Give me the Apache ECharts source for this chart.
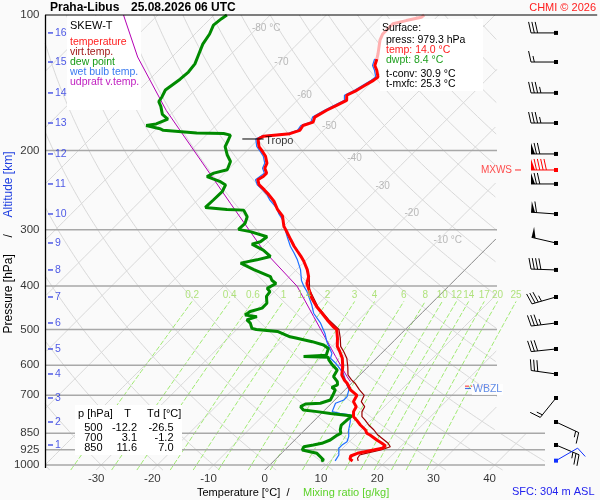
<!DOCTYPE html>
<html lang="cs">
<head>
    <meta charset="UTF-8">
    <title>Praha-Libus SKEW-T</title>
    <script src="https://cdn.jsdelivr.net/npm/echarts@6.0.0/dist/echarts.min.js"></script>
    <style type="text/css">
        * { margin: 0; padding: 0; }
        html, body { width: 600px; height: 500px; background: #fafafa; }
    </style>
</head>
<body>
<div id="main" style="width: 600px;height:500px;"></div>
<script type="text/javascript">
    // ---- sounding data: [pressure hPa, value °C] ----
    var tempProfile = [[979.3, 14.0], [970, 13.2], [955, 12.8], [942, 13.5], [926, 15.8], [918, 17.0], [907, 17.2],
        [895, 16.1], [880, 14.6], [858, 12.5], [850, 11.6], [836, 10.8], [815, 9.0], [794, 7.4], [781, 6.3],
        [761, 5.4], [742, 5.0], [723, 3.6], [700, 3.1], [681, 1.0], [658, -0.8], [647, -1.9], [631, -3.2],
        [605, -4.5], [579, -6.1], [560, -7.7], [545, -9.1], [523, -10.5], [500, -12.2], [493, -13.3], [476, -15.6],
        [460, -17.7], [445, -19.8], [426, -22.2], [408, -24.2], [395, -25.7], [381.5, -26.6], [368, -28.1],
        [352.6, -30.2], [343.7, -31.6], [335, -33.1], [326.5, -34.6], [315.5, -36.4], [304.8, -38.2], [294.6, -40.0],
        [280, -42.0], [270.5, -44.1], [259.3, -46.2], [250.7, -48.3], [244.4, -50.0], [238.3, -51.8], [232.3, -52.9],
        [228.5, -52.5], [224.6, -52.5], [219, -53.7], [213.5, -54.2], [206, -55.7], [201, -57.1], [196, -58.6],
        [188.6, -60.1], [185.9, -59.6], [183.5, -55.4], [180.5, -54.2], [176, -54.5], [173, -53.3], [168.6, -53.9],
        [162.8, -53.0], [158.8, -52.1], [154.8, -51.2], [150.8, -52.1], [147, -51.2], [143.3, -50.6], [139.7, -50.0],
        [137.3, -49.8], [132.7, -51.2], [129.5, -52.4], [125.2, -53.2]];
    // faded top part of the temperature curve
    var tempTopProfile = [[125.2, -53.2], [122, -53.9], [113.7, -56.0], [110.2, -56.6], [104.6, -56.6],
        [102.9, -54.8], [101.2, -52.7], [100, -52.6]];
    var virtProfile = [[979.3, 15.0], [966, 14.4], [950, 14.2], [942, 15.0], [926, 17.1], [911, 18.2], [895, 17.2],
        [880, 15.9], [858, 13.9], [836, 12.3], [815, 10.5], [794, 8.9], [781, 7.8], [761, 6.9], [742, 6.5],
        [723, 5.0], [700, 4.4], [681, 2.6], [658, 0.6], [647, -0.6], [631, -2.1], [605, -3.6], [579, -5.3],
        [560, -7.0], [545, -8.5], [523, -10.0], [500, -11.8], [476, -15.3], [445, -19.6], [408, -24.1], [381.5, -26.5]];
    var dewProfile = [[979.3, 8.4], [975, 8.7], [942, 6.3], [926, 3.1], [911, 2.8], [903, 4.2], [895, 5.4],
        [880, 6.3], [858, 6.7], [850, 7.0], [836, 6.3], [815, 5.6], [801, 5.7], [786, 5.8], [778, 5.9], [774, 4.2],
        [768, 1.6], [761, -1.1], [755, -3.8], [742, -4.9], [732, -4.5], [729, -2.0], [717, -0.8], [700, -1.2],
        [681, -1.7], [672, -2.8], [664, -2.2], [653, -2.8], [636, -4.4], [615, -4.9], [599, -6.7], [584, -8.2],
        [576, -8.8], [574, -13.3], [570, -9.5], [565, -9.7], [551, -10.3], [541, -11.8], [532, -14.4], [523, -17.7],
        [519, -19.2], [505, -22.4], [500, -26.5], [497, -27.5], [484, -28.7], [476, -29.9], [468, -28.7],
        [464, -31.1], [456, -30.8], [448, -29.3], [437, -29.3], [422, -30.6], [412, -30.8], [405, -31.9],
        [401, -32.2], [395, -31.2], [388.6, -32.5], [381.5, -33.4], [368, -37.6], [356, -41.1], [350, -38.8],
        [344, -37.0], [333, -39.4], [322.9, -42.5], [319, -41.4], [311, -41.1], [303, -45.0], [299.5, -47.5],
        [290.4, -47.4], [280.7, -48.2], [271.4, -50.0], [270.5, -53.1], [267.7, -57.3], [258, -57.2], [247, -57.1],
        [238.6, -57.7], [234.6, -59.2], [228.6, -62.5], [224.6, -61.9], [220.8, -60.1], [211.6, -61.0],
        [204.4, -62.8], [196.1, -64.6], [189.6, -65.2], [184.9, -65.7], [183.4, -67.2], [182.8, -72.1],
        [180.4, -78.5], [178.9, -79.4], [176, -82.4], [174.6, -80.9], [170.3, -79.7], [166.3, -81.5],
        [159.6, -83.2], [155.8, -84.4], [151.9, -84.7], [146.8, -85.3], [143.2, -85.0], [138.9, -84.6],
        [133.9, -84.4], [128.4, -84.7], [123, -85.6], [116.1, -86.8], [110.2, -87.4], [105.3, -88.3],
        [101.9, -88.0], [100, -87.7]];
    var wetProfile = [[979.3, 10.9], [975, 10.9], [950, 10.5], [918, 9.3], [903, 9.3], [888, 9.6], [865, 9.0],
        [836, 7.8], [801, 6.6], [774, 5.4], [768, 3.3], [761, 1.6], [729, 0.7], [717, 1.6], [705, 1.6], [681, 0.7],
        [664, -0.5], [647, -1.7], [626, -3.2], [594, -6.4], [579, -8.2], [565, -8.8], [532, -11.8], [510, -13.6],
        [484, -16.2], [460, -19.2], [441, -21.0], [412, -24.2], [401, -25.7], [389, -27.2], [368, -29.3],
        [350, -31.6], [338, -33.4], [327, -35.2], [310.5, -37.6], [285, -41.4], [276, -43.2], [269, -44.4],
        [258, -47.1], [250.7, -48.6], [244.4, -50.3], [238.3, -52.1], [232.3, -53.3], [224.6, -52.9], [219, -54.1],
        [213.5, -54.6], [206, -56.1], [201, -57.5], [196, -59.0], [188.6, -60.5], [185.9, -60.0], [183.5, -55.8],
        [180.5, -54.6], [176, -54.9], [173, -53.7], [168.6, -54.3], [162.8, -53.4], [158.8, -52.5], [154.8, -51.6],
        [150.8, -52.5], [147, -51.6], [143.3, -51.0], [139.7, -50.4], [137.3, -50.2], [132.7, -51.6],
        [129.5, -52.8], [125.2, -53.6]];
    var parcelProfile = [[652.7, -0.5], [636, -2.0], [574, -7.6], [468, -18.6], [401, -26.9], [333, -39.4],
        [262, -53.6], [210, -66.6], [163, -81.5], [124, -96.1], [100, -106.1]];

    // levels
    var pLevels = [100, 200, 300, 400, 500, 600, 700, 850, 925, 1000];
    var altKm = [16, 15, 14, 13, 12, 11, 10, 9, 8, 7, 6, 5, 4, 3, 2, 1];
    var altP = [109.6, 127.2, 149.0, 173.8, 203.6, 237.4, 276.8, 321.1, 368.6, 423.3, 483.5, 552.3, 627.7,
        709.7, 802.5, 902.7];
    var windDir = [270, 270, 270, 270, 270, 270, 274, 283, 272, 254, 263, 264, 278, 219, 115, 113];
    var windSpd = [30, 15, 35, 35, 70, 70, 60, 50, 40, 35, 35, 30, 30, 15, 15, 25];
    var mxwsP = [221], mxwsDir = [270], mxwsSpd = [90];
    var sfcWindP = [978], sfcWindDir = [60], sfcWindSpd = [10];
    var tropoP = 188.6, tropoT = -60.1;
    var fzlP = 668, wbzlP = 676;

    // diagram reference lines
    var isoT = [-120, -110, -100, -90, -80, -70, -60, -50, -40, -30, -20, -10, 10, 20, 30, 40, 50];
    var thetaC = [-40, -30, -20, -10, 0, 10, 20, 30, 40, 50, 60, 70, 80, 90, 100, 110, 120, 130, 140, 150, 160, 170];
    var mixR = [0.2, 0.4, 0.6, 1, 1.4, 2, 3, 4, 6, 8, 10, 12, 14, 17, 20, 25];
    var isoLabelT = [-80, -70, -60, -50, -40, -30, -20, -10];
    var isoLabelP = [107, 127.3, 150.8, 177.1, 207.6, 239.6, 275.3, 316.3];
    var tempTicks = [-30, -20, -10, 0, 10, 20, 30, 40];

    // surface info and table
    var sfcP = 979.3, sfcT = 14.0, sfcTd = 8.4, tConv = 30.9, tMxfc = 25.3, sfcElev = 304;
    var tblP = [500, 700, 850], tblT = [-12.2, 3.1, 11.6], tblTd = [-26.5, -1.2, 7.0];

    // ---- skewed coordinates ----
    var XMIN = -40, XMAX = 58.75, GL = 45, GW = 555;
    var PXC = GW / (XMAX - XMIN);
    var SKEW = 450 / Math.LN10 / PXC;
    var P_FOOT = 1026; // where isotherms leave the bottom of the diagram
    function xv(px) { return XMIN + (px - GL) / PXC; }
    function sx(t, p) { return t + SKEW * Math.log(1000 / p); }
    function rightX(p) { return p >= 850 ? xv(545) : xv(497); }
    function prof(list) { return list.map(function (d) { return [sx(d[1], d[0]), d[0]]; }); }

    function family(vals, fn, pBot, pTop, clipRight) {
        var out = [];
        vals.forEach(function (v) {
            var seg = false;
            for (var i = 0; i <= 260; i++) {
                var p = pBot * Math.pow(pTop / pBot, i / 260);
                var x = fn(v, p);
                var ok = x >= XMIN && (clipRight ? x <= rightX(p) : x <= XMAX);
                if (ok) { out.push([x, p]); seg = true; }
                else if (seg) { out.push(null); seg = false; }
            }
            if (seg) out.push(null);
        });
        return out;
    }
    function isotherm(t, p) { return sx(t, p); }
    function adiabat(th, p) { return sx((th + 273.15) * Math.pow(p / 1000, 0.286) - 273.15, p); }
    function mixing(w, p) {
        var e = w * p / (622 + w), l = Math.log(e / 6.112);
        return sx(243.5 * l / (17.67 - l), p);
    }

    var FONT = '"Liberation Sans", Arial, sans-serif';
    function bgLine(data, color, width, dash, z) {
        return {
            type: 'line', data: data, z: z || 0, silent: true, clip: false, symbol: 'none', connectNulls: false,
            lineStyle: {color: color, width: width, type: dash || 'solid'}, animation: false
        };
    }
    function curve(list, color, width) {
        return {
            type: 'line', data: prof(list), z: 3, silent: true, clip: false, symbol: 'none',
            lineStyle: {color: color, width: width}, animation: false
        };
    }

    // isobars
    var isobarData = [];
    pLevels.forEach(function (p) {
        if (p === 100) return;
        isobarData.push([XMIN, p], [rightX(p), p], null);
    });

    // wind barbs
    var BARB_X = xv(556);
    function barbSeries(ps, dirs, spds, color) {
        return {
            type: 'custom', z: 5, silent: true, clip: false, animation: false,
            data: ps.map(function (p, i) { return [BARB_X, p, dirs[i], spds[i]]; }),
            renderItem: function (params, api) {
                var c = api.coord([api.value(0), api.value(1)]);
                var a = api.value(2) * Math.PI / 180;
                var sX = Math.sin(a), sY = -Math.cos(a);
                var nX = -sY, nY = sX;
                var L = 25, F = 11, gap = 3.3, fw = 4;
                var ex = c[0] + L * sX, ey = c[1] + L * sY;
                var st = {stroke: color, lineWidth: 1};
                var kids = [
                    {type: 'line', shape: {x1: c[0], y1: c[1], x2: ex, y2: ey}, style: st},
                    {type: 'rect', shape: {x: c[0] - 2, y: c[1] - 2, width: 4, height: 4}, style: {fill: color}}
                ];
                var v = Math.round(api.value(3) / 5) * 5, pos = 0;
                function base() { return [ex - pos * sX, ey - pos * sY]; }
                while (v >= 50) {
                    var b = base();
                    kids.push({type: 'polygon', shape: {points: [b, [b[0] + F * nX, b[1] + F * nY],
                        [b[0] - fw * sX, b[1] - fw * sY]]}, style: {fill: color}});
                    v -= 50; pos += fw + 1.5;
                }
                while (v >= 10) {
                    var b2 = base();
                    kids.push({type: 'line', shape: {x1: b2[0], y1: b2[1], x2: b2[0] + F * (nX + 0.22 * sX),
                        y2: b2[1] + F * (nY + 0.22 * sY)}, style: st});
                    v -= 10; pos += gap;
                }
                if (v >= 5) {
                    if (pos === 0) pos = gap;
                    var b3 = base();
                    kids.push({type: 'line', shape: {x1: b3[0], y1: b3[1], x2: b3[0] + F * 0.55 * (nX + 0.22 * sX),
                        y2: b3[1] + F * 0.55 * (nY + 0.22 * sY)}, style: st});
                }
                return {type: 'group', children: kids};
            }
        };
    }

    function labelScatter(data, label, extra) {
        var s = {
            type: 'scatter', data: data, z: 6, silent: true, clip: false, animation: false,
            symbolSize: 1, itemStyle: {color: 'rgba(0,0,0,0)'},
            label: Object.assign({show: true, fontFamily: FONT}, label)
        };
        return Object.assign(s, extra || {});
    }

    var series = [
        bgLine(family(isoT, isotherm, P_FOOT, 100, true), '#d9d9d9', 1),
        bgLine(family(thetaC, adiabat, P_FOOT, 100, true), '#d9d9d9', 1),
        bgLine(family(mixR, mixing, P_FOOT, 433, false), '#9fea70', 1, [5, 2]),
        bgLine(family([0], isotherm, P_FOOT, 100, true), '#888888', 1),
        bgLine(isobarData, '#a8a8a8', 1.5),
        // frame: top line and pressure axis
        bgLine([[XMIN, 100], [XMAX - 0.5, 100]], '#000000', 1, null, 8),
        bgLine([[xv(45.5), 100], [xv(45.5), 1016]], '#000000', 1.3, null, 9),
        // profiles
        curve(parcelProfile, '#b400b4', 1),
        curve(wetProfile, '#1e6fff', 1.2),
        curve(virtProfile, '#990000', 1.2),
        curve(dewProfile, '#008a00', 3),
        curve(tempProfile, '#ff0000', 3),
        curve(tempTopProfile, '#ffb0b0', 3),
        // tropopause
        {
            type: 'line', z: 4, silent: true, clip: false, symbol: 'none', animation: false,
            data: [[sx(tropoT - 2.8, tropoP), tropoP], [sx(tropoT + 1.0, tropoP), tropoP]],
            lineStyle: {color: '#000', width: 1}
        },
        labelScatter([[sx(tropoT + 1.0, tropoP), tropoP]],
            {position: 'right', distance: 1, offset: [0, 2], formatter: 'Tropo', color: '#000', fontSize: 11}),
        // freezing / wet bulb zero levels
        {
            type: 'line', z: 4, silent: true, clip: false, symbol: 'none', animation: false,
            data: [[xv(465), fzlP], [xv(491), fzlP]], lineStyle: {color: '#ff2020', width: 1, type: [4, 2]}
        },
        labelScatter([[xv(468), wbzlP]], {
            position: 'right', distance: 1, offset: [0, 1], formatter: 'WBZL', color: '#3a6fe0', fontSize: 10.5,
            backgroundColor: '#ffffff', padding: [0, 1]
        }, {symbol: 'rect', symbolSize: [6, 1.2], itemStyle: {color: '#2050e0'}}),
        labelScatter([[xv(518), mxwsP[0]]], {
            position: 'left', distance: 3, formatter: 'MXWS', color: '#ff2020', fontSize: 10
        }, {symbol: 'rect', symbolSize: [6, 1.2], itemStyle: {color: '#ff2020'}}),
        // pressure labels
        labelScatter(pLevels.map(function (p) { return [XMIN, p]; }), {
            position: 'left', distance: 5, color: '#000', fontSize: 11.5,
            formatter: function (o) { return String(o.data[1]); }
        }),
        // temperature labels, where each isotherm leaves the diagram at the bottom
        labelScatter(tempTicks.map(function (t) { return [sx(t, P_FOOT), P_FOOT]; }), {
            position: 'inside', offset: [0, 8.5], color: '#000', fontSize: 11.5,
            formatter: function (o) { return String(tempTicks[o.dataIndex]); }
        }),
        // altitude marks
        labelScatter(altP.map(function (p) { return [XMIN, p]; }), {
            position: 'right', distance: 2, color: '#2030e0', fontSize: 10.5,
            formatter: function (o) { return String(altKm[o.dataIndex]); }
        }, {symbol: 'rect', symbolSize: [5, 1.5], symbolOffset: [5.5, 0], itemStyle: {color: '#2030e0'}}),
        // isotherm labels
        labelScatter(isoLabelT.map(function (t, i) { return [sx(t, isoLabelP[i]), isoLabelP[i]]; }), {
            position: 'inside', align: 'left', offset: [-5, 0], color: '#a8a8a8', fontSize: 10,
            formatter: function (o) {
                var t = isoLabelT[o.dataIndex];
                return (t === -80 || t === -10) ? t + ' °C' : String(t);
            }
        }),
        // mixing ratio labels
        labelScatter(mixR.map(function (w) { return [mixing(w, 433), 433]; }), {
            position: 'top', distance: 1, color: '#9edc5c', fontSize: 10,
            formatter: function (o) { return String(mixR[o.dataIndex]); }
        }),
        barbSeries(altP, windDir, windSpd, '#000000'),
        barbSeries(mxwsP, mxwsDir, mxwsSpd, '#ff0000'),
        barbSeries(sfcWindP, sfcWindDir, sfcWindSpd, '#1030ff')
    ];

    // ---- text boxes ----
    var g = [];
    function box(x, y, w, h) {
        g.push({type: 'rect', z: 1, silent: true, shape: {x: x, y: y, width: w, height: h}, style: {fill: '#ffffff'}});
    }
    function txt(x, y, s, color, size, align, weight) {
        g.push({
            type: 'text', z: 20, silent: true, x: x, y: y,
            style: {
                text: s, fill: color || '#000', align: align || 'left', verticalAlign: 'middle',
                font: (weight || 'normal') + ' ' + (size || 11) + 'px ' + FONT
            }
        });
    }
    txt(50, 7.5, 'Praha-Libus', '#000', 12, 'left', 'bold');
    txt(131, 7.5, '25.08.2026 06 UTC', '#000', 12, 'left', 'bold');
    txt(596, 7.5, 'CHMI © 2026', '#ff2020', 11, 'right');

    box(67, 16, 74, 94);
    txt(70, 26, 'SKEW-T', '#000', 11);
    txt(70, 42, 'temperature', '#ff2020', 10.5);
    txt(70, 52, 'virt.temp.', '#a01818', 10.5);
    txt(70, 62, 'dew point', '#169a16', 10.5);
    txt(70, 72, 'wet bulb temp.', '#3a7bf0', 10.5);
    txt(70, 82, 'udpraft v.temp.', '#c020c0', 10.5);

    box(380, 19, 103, 72);
    txt(382, 28, 'Surface:', '#000', 10.5);
    txt(386, 40, 'press: ' + sfcP.toFixed(1) + ' hPa', '#000', 10.5);
    txt(386, 50, 'temp: ' + sfcT.toFixed(1) + ' °C', '#ff2020', 10.5);
    txt(386, 60, 'dwpt: ' + sfcTd.toFixed(1) + ' °C', '#20a020', 10.5);
    txt(386, 74, 't-conv: ' + tConv.toFixed(1) + ' °C', '#000', 10.5);
    txt(386, 84, 't-mxfc: ' + tMxfc.toFixed(1) + ' °C', '#000', 10.5);

    box(75, 405, 107, 50);
    txt(78, 414, 'p [hPa]', '#000', 11);
    txt(127.5, 414, 'T', '#000', 11, 'center');
    txt(147, 414, 'Td [°C]', '#000', 11);
    tblP.forEach(function (p, i) {
        var y = 428.3 + i * 10;
        txt(102.5, y, String(p), '#000', 11, 'right');
        txt(137, y, tblT[i].toFixed(1), '#000', 11, 'right');
        txt(173.5, y, tblTd[i].toFixed(1), '#000', 11, 'right');
    });

    txt(197, 493, 'Temperature [°C]', '#000', 11);
    txt(288, 493, '/', '#000', 11, 'center');
    txt(303, 493, 'Mixing ratio [g/kg]', '#5dd22a', 11);
    txt(512, 492, 'SFC: ' + sfcElev + ' m ASL', '#2222ee', 11);

    // vertical axis title
    g.push({
        type: 'text', z: 20, silent: true, x: 8.5, y: 242.5, rotation: Math.PI / 2,
        style: {
            text: '{a|Pressure [hPa]}     /     {b|Altitude [km]}', align: 'center', verticalAlign: 'middle',
            font: '12px ' + FONT, fill: '#000',
            rich: {a: {fill: '#000', font: '12px ' + FONT}, b: {fill: '#2040e0', font: '12px ' + FONT}}
        }
    });

    var myChart = echarts.init(document.getElementById('main'));
    var option = {
        backgroundColor: '#fafafa',
        animation: false,
        grid: {left: GL, top: 15, width: GW, height: 450, containLabel: false, outerBoundsMode: 'none'},
        xAxis: {
            type: 'value', min: XMIN, max: XMAX, interval: 10,
            axisLine: {show: false}, axisTick: {show: false}, splitLine: {show: false},
            axisLabel: {show: false}
        },
        yAxis: {
            type: 'log', logBase: 10, min: 100, max: 1000, inverse: true,
            axisLine: {show: false, onZero: false},
            axisTick: {show: false}, axisLabel: {show: false}, splitLine: {show: false}
        },
        graphic: {elements: g},
        series: series
    };
    myChart.setOption(option);
</script>
</body>
</html>
